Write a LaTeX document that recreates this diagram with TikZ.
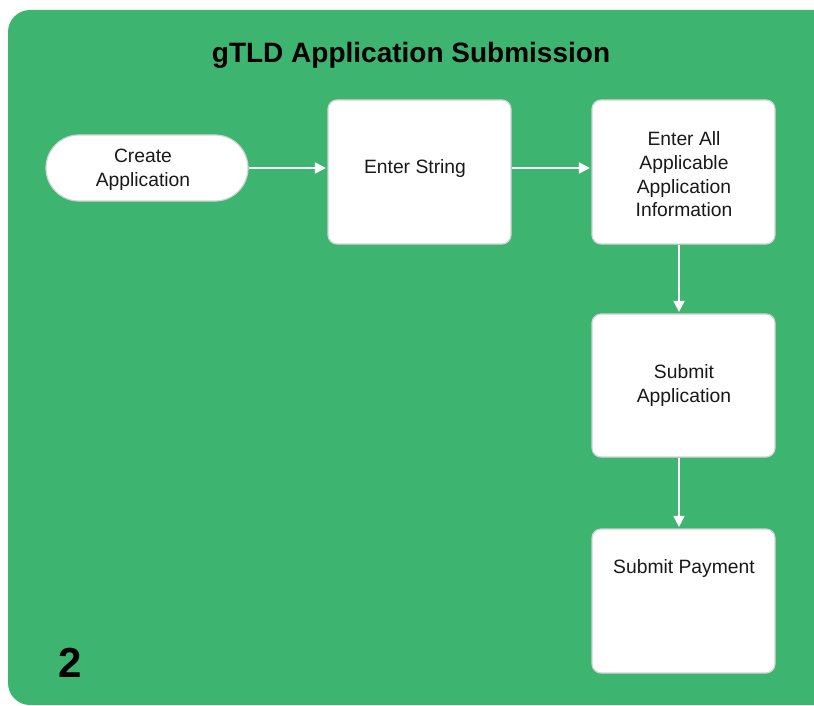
\documentclass[tikz,border=0pt]{standalone}
\usepackage{fontspec}
\setmainfont{Liberation Sans}
\usetikzlibrary{arrows.meta}
\definecolor{bggreen}{RGB}{61,181,112}
\definecolor{boxline}{RGB}{210,210,210}
\begin{document}
\begin{tikzpicture}[x=1pt,y=-1pt,
  box/.style={draw=boxline, line width=1.2pt, fill=white, rounded corners=9pt, inner sep=0pt},
  lbl/.style={font=\fontsize{19.3}{23.7}\selectfont, align=center, text=black!90, inner sep=0pt},
  flow/.style={draw=white, line width=1.8pt, shorten >=1.5pt, -{Triangle[length=11pt,width=11pt]}}]
\useasboundingbox (0,0) rectangle (814,706);
\begin{scope}
  \clip (0,0) rectangle (814,706);
  \fill[bggreen, rounded corners=22pt] (8,10) rectangle (860,705);
\end{scope}
\node[font=\bfseries\fontsize{28}{33}\selectfont, inner sep=0pt] (title) at (411,55) {gTLD Application Submission};
\node[font=\bfseries\fontsize{42}{50}\selectfont, inner sep=0pt] (num) at (70.5,663) {2};

\node[box, rounded corners=33pt, minimum width=202pt, minimum height=66pt] (create) at (147,168) {};
\node[box, minimum width=183pt, minimum height=144pt] (enter) at (419.5,172) {};
\node[box, minimum width=183pt, minimum height=144pt] (all) at (683.5,172) {};
\node[box, minimum width=183pt, minimum height=143pt] (subapp) at (683.5,385.5) {};
\node[box, minimum width=183pt, minimum height=144pt] (pay) at (683.5,601) {};

\node[lbl] (tcreate) at (143,170) {Create\\Application};
\node[lbl] (tenter) at (415,168.5) {Enter String};
\node[lbl] (tall) at (684,174.5) {Enter All\\Applicable\\Application\\Information};
\node[lbl] (tsubapp) at (684,385.5) {Submit\\Application};
\node[lbl] (tpay) at (684,569) {Submit Payment};

\draw[flow] (create.east) -- (create.east -| enter.west);
\draw[flow] ([yshift=4pt]enter.east) -- ([yshift=4pt]all.west);
\draw[flow] ([xshift=-4.5pt]all.south) -- ([xshift=-4.5pt]subapp.north);
\draw[flow] ([xshift=-4.5pt]subapp.south) -- ([xshift=-4.5pt]pay.north);
\end{tikzpicture}
\end{document}
